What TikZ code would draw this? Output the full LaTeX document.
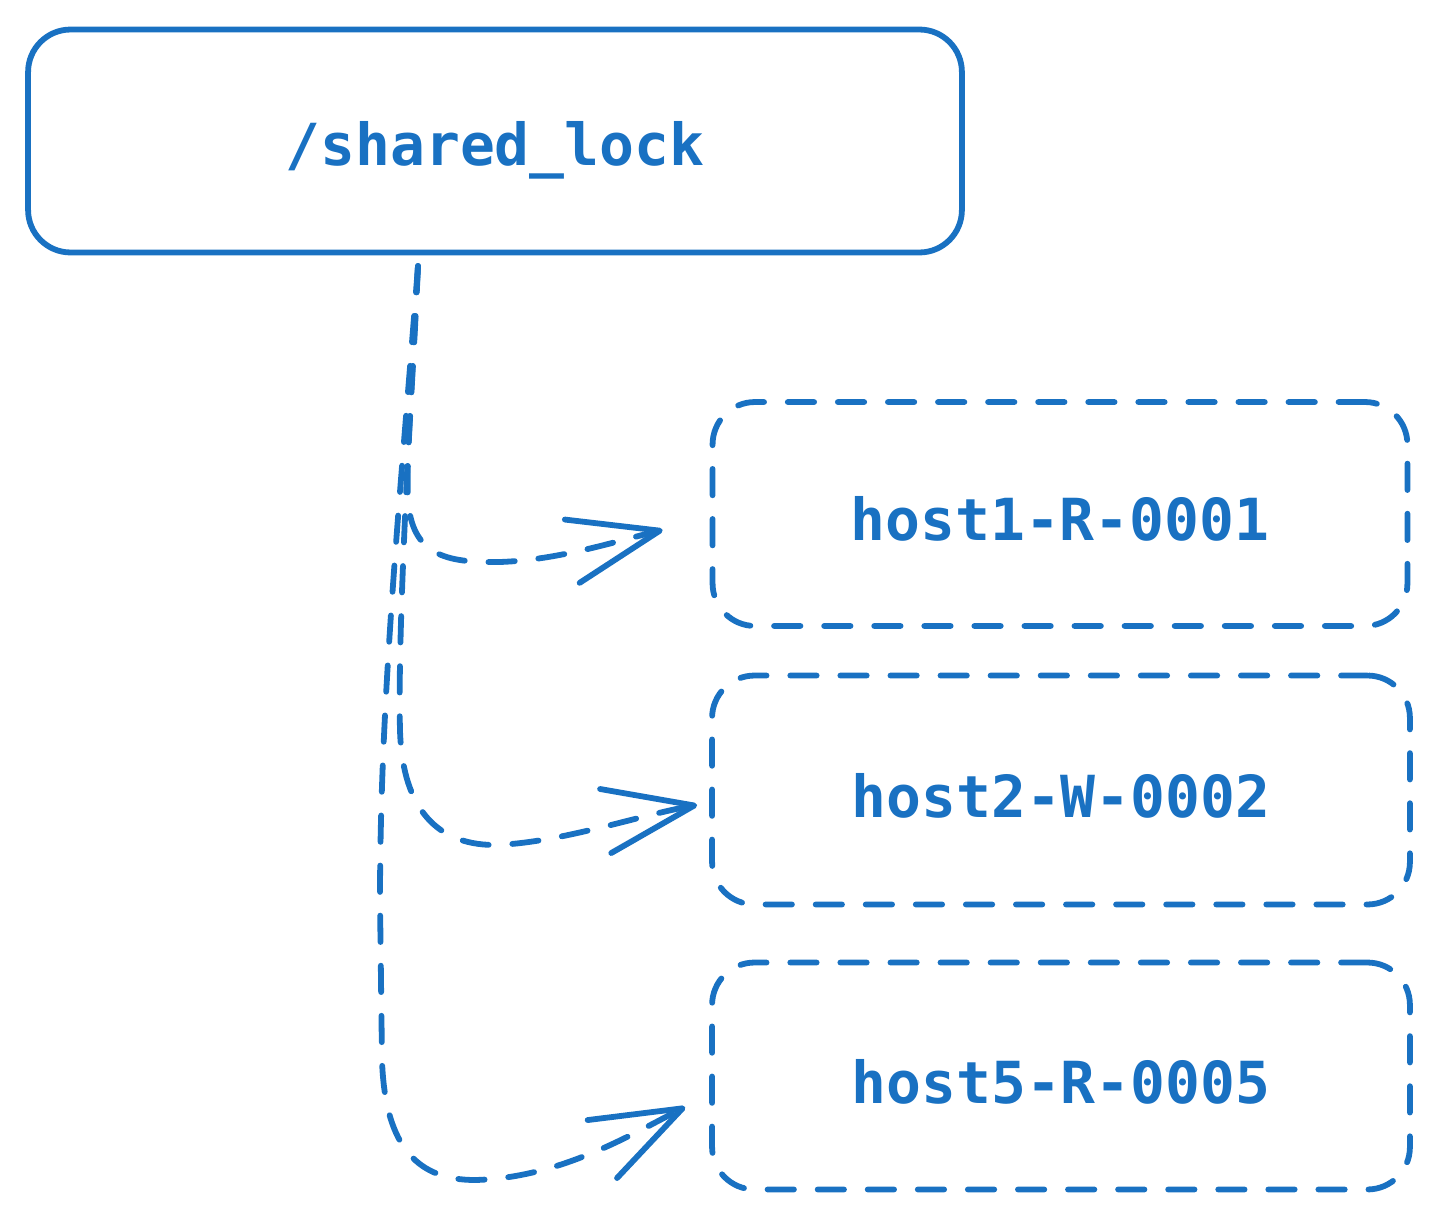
\documentclass[tikz,border=0pt]{standalone}
\usepackage{fontspec}
\usetikzlibrary{arrows.meta}
\newfontfamily\codefont{DejaVu Sans Mono}
\definecolor{lockblue}{HTML}{1971C2}

\begin{document}
\begin{tikzpicture}[
		x=0.02cm, y=-0.02cm,
		line width=3.3pt, line cap=round, color=lockblue,
		every node/.style={rectangle, rounded corners=0.85cm, text height=1.08cm, text depth=0pt,
			font=\codefont\bfseries\fontsize{33}{40}\selectfont},
		held/.style={dash pattern=on 15pt off 13.5pt},
		link/.style={held, -{Straight Barb[length=1.8cm, width=1.3cm, round]}}
	]
  \useasboundingbox (0,0) rectangle (1438,1217);
  \node (lock) [draw, text depth=0.1cm, minimum width=18.68cm, minimum height=4.46cm] at (495,141) {/shared\_lock};
  \node (host_1) [draw, held, minimum width=13.9cm, minimum height=4.48cm] at (1060,514) {host1-R-0001};
  \node (host_2) [draw, held, minimum width=13.96cm, minimum height=4.58cm] at (1061,790) {host2-W-0002};
  \node (host_5) [draw, held, minimum width=13.96cm, minimum height=4.54cm] at (1061,1076) {host5-R-0005};
  \coordinate (tap) at (418,266);
  \draw [link] (tap) .. controls (412,400) and (406,460) .. (408,500)
    .. controls (412,555) and (445,563) .. (500,562)
    .. controls (560,560) and (620,540) .. ([xshift=-0.94cm, yshift=-0.32cm]host_1.west);
  \draw [link] (tap) .. controls (405,500) and (398,650) .. (400,730)
    .. controls (402,800) and (430,845) .. (495,845)
    .. controls (560,843) and (640,815) .. ([xshift=-0.24cm, yshift=-0.3cm]host_2.west);
  \draw [link] (tap) .. controls (400,500) and (380,700) .. (380,900) -- (382,1060)
    .. controls (385,1150) and (420,1180) .. (475,1180)
    .. controls (560,1178) and (630,1135) .. ([xshift=-0.48cm, yshift=-0.62cm]host_5.west);
\end{tikzpicture}
\end{document}
